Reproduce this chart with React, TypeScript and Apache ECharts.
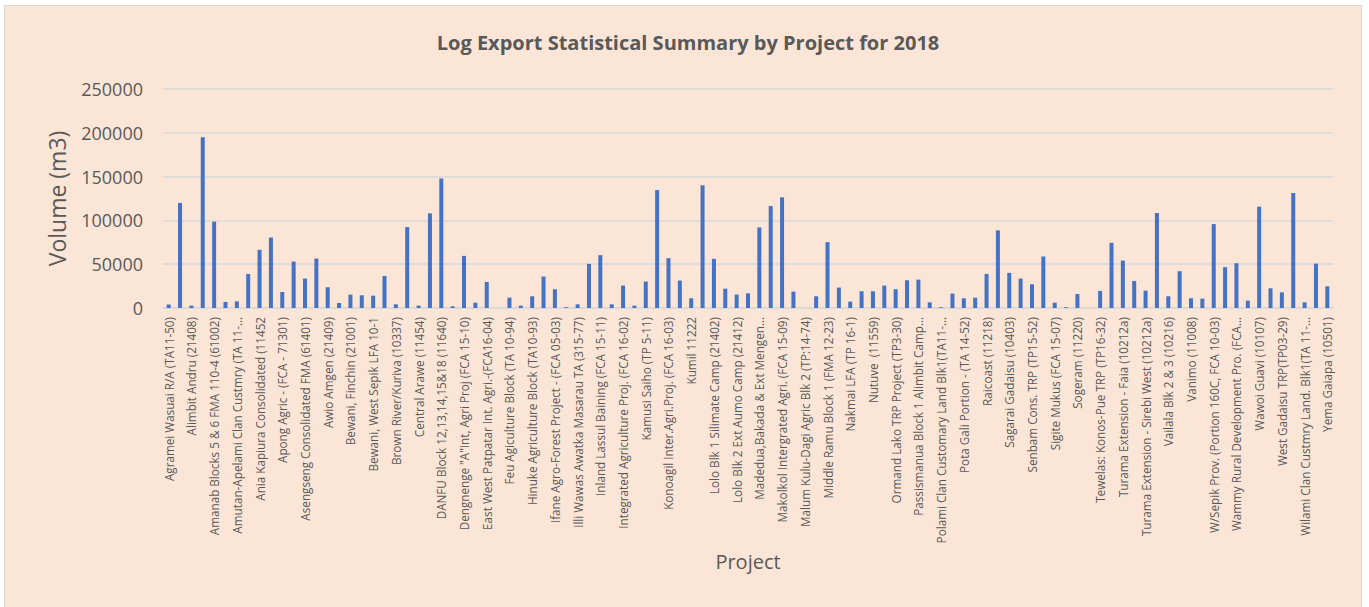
import React, { useEffect, useRef } from "react";
import * as echarts from "echarts";

// Labels that are visible in the chart (every other category is shown)
const labeledProjects: string[] = [
  "Agramei Wasuai R/A (TA11-50)",
  "Alimbit Andru (21408)",
  "Amanab Blocks 5 & 6 FMA 110-4 (61002)",
  "Amutan-Apelami Clan Custmry (TA 11-…",
  "Ania Kapiura Consolidated (11452",
  "Apong Agric - (FCA - 71301)",
  "Asengseng Consolidated FMA (61401)",
  "Awio Amgen (21409)",
  "Bewani, Finchin (21001)",
  "Bewani, West Sepik LFA 10-1",
  "Brown River/Kuriva (10337)",
  "Central Arawe (11454)",
  "DANFU Block 12,13,14,15&18 (11640)",
  "Dengnenge \"A\"Int, Agri Proj (FCA 15-10)",
  "East West Patpatar Int. Agri.-(FCA16-04)",
  "Feu Agiculture Block (TA 10-94)",
  "Hinuke Agriculture Block (TA10-93)",
  "Ifane Agro-Forest Project - (FCA 05-03)",
  "Illi Wawas Awatka Masarau TA (315-77)",
  "Inland Lassul Baining (FCA 15-11)",
  "Integrated Agriculture Proj. (FCA 16-02)",
  "Kamusi Saiho (TP 5-11)",
  "Konoagil Inter.Agri.Proj. (FCA 16-03)",
  "Kumil 11222",
  "Lolo Blk 1 Silimate Camp (21402)",
  "Lolo Blk 2 Ext Aumo Camp (21412)",
  "Madedua,Bakada & Ext Mengen…",
  "Makolkol Intergrated Agri. (FCA 15-09)",
  "Malum Kulu-Dagi Agric Blk 2 (TP:14-74)",
  "Middle Ramu Block 1 (FMA 12-23)",
  "Nakmai LFA (TP 16-1)",
  "Nutuve  (11559)",
  "Ormand Lako TRP Project (TP3-30)",
  "Passismanua Block 1 Alimbit Camp…",
  "Polami Clan Customary Land Blk1(TA11-…",
  "Pota Gali Portion - (TA 14-52)",
  "Raicoast (11218)",
  "Sagarai Gadaisu (10403)",
  "Senbam Cons. TRP (TP15-52)",
  "Sigite Mukus (FCA 15-07)",
  "Sogeram (11220)",
  "Tewelas: Konos-Pue TRP (TP16-32)",
  "Turama Extension - Faia (10212a)",
  "Turama Extension - Sirebi West (10212a)",
  "Vailala Blk 2 & 3 (10216)",
  "Vanimo (11008)",
  "W/Sepik Prov. (Portion 160C, FCA 10-03)",
  "Wammy Rural Development Pro. (FCA…",
  "Wawoi Guavi (10107)",
  "West Gadaisu TRP(TP03-29)",
  "Wilami Clan Custmry Land. Blk1(TA 11-…",
  "Yema Gaiapa (10501)",
];

// Volume (m3) for all 103 projects, in axis order
const volumes: number[] = [
  4000, 120000, 2700, 195000, 98500, 6900, 7600, 38900, 66400, 80500,
  18300, 53000, 33600, 56500, 23700, 5700, 15300, 14500, 14100, 36600,
  4200, 92400, 2700, 108000, 147700, 1900, 59500, 6100, 29800, 0,
  11800, 2700, 13400, 35900, 21400, 900, 4200, 50400, 60300, 4200,
  25600, 2700, 30200, 134700, 56900, 31300, 11100, 140100, 56100, 22100,
  15300, 16800, 92000, 116400, 126300, 18700, 0, 13400, 75200, 23300,
  7300, 19100, 19100, 25600, 21400, 31700, 32400, 6500, 900, 16400,
  11100, 11800, 38900, 88600, 40100, 33600, 27100, 58800, 6100, 900,
  16000, 0, 19500, 74400, 54200, 30900, 19800, 108400, 13400, 42000,
  11100, 10700, 95800, 46600, 51100, 8400, 115700, 22500, 17900, 131300,
  6500, 50700, 24800,
];

const yTicks = { min: 0, max: 250000, interval: 50000 };

// Names of the unlabeled (every second) categories cannot be read from the chart
const categories: string[] = volumes.map((_, i) =>
  i % 2 === 0 ? labeledProjects[i / 2] : ""
);

const FONT = "'Open Sans', 'Liberation Sans', sans-serif";
const TEXT = "#595959";
const GRID = "#D9D9D9";

export default function App() {
  const ref = useRef<HTMLDivElement>(null);

  useEffect(() => {
    if (!ref.current) return;
    const chart = echarts.init(ref.current, undefined, { renderer: "svg" });
    chart.setOption({
      animation: false,
      backgroundColor: "transparent",
      textStyle: { fontFamily: FONT },
      title: {
        text: "Log Export Statistical Summary by Project for 2018",
        left: 683,
        textAlign: "center",
        top: 27,
        textStyle: {
          fontFamily: FONT,
          fontSize: 20,
          fontWeight: "bold",
          color: TEXT,
        },
      },
      grid: { left: 163, right: 36, top: 89, bottom: 299, containLabel: false },
      xAxis: {
        type: "category",
        data: categories,
        boundaryGap: true,
        name: "Project",
        nameLocation: "middle",
        nameGap: 243,
        nameTextStyle: { fontFamily: FONT, fontSize: 20, color: TEXT },
        axisLine: { show: true, lineStyle: { color: GRID, width: 1.5 } },
        axisTick: { show: false },
        axisLabel: {
          interval: 1,
          rotate: 90,
          margin: 9,
          fontFamily: FONT,
          fontSize: 11.7,
          color: TEXT,
        },
      },
      yAxis: {
        type: "value",
        min: yTicks.min,
        max: yTicks.max,
        interval: yTicks.interval,
        name: "Volume (m3)",
        nameLocation: "middle",
        nameGap: 95,
        nameTextStyle: { fontFamily: FONT, fontSize: 23, color: TEXT },
        axisLine: { show: false },
        axisTick: { show: false },
        axisLabel: {
          margin: 20,
          fontFamily: FONT,
          fontSize: 18,
          color: TEXT,
          formatter: (v: number) => String(v),
        },
        splitLine: { show: true, lineStyle: { color: GRID, width: 1.5 } },
      },
      series: [
        {
          type: "bar",
          data: volumes,
          barWidth: 4,
          itemStyle: { color: "#4472C4" },
        },
      ],
    });
    return () => chart.dispose();
  }, []);

  return (
    <div
      style={{
        position: "fixed",
        left: 0,
        top: 0,
        width: 1369,
        height: 607,
        background: "#ffffff",
        overflow: "hidden",
      }}
    >
      <div
        style={{
          position: "absolute",
          left: 4,
          top: 5,
          width: 1358,
          height: 620,
          boxSizing: "border-box",
          background: "#FBE5D6",
          border: "1px solid #D9D9D9",
        }}
      />
      <div
        ref={ref}
        style={{ position: "absolute", left: 0, top: 0, width: 1369, height: 607 }}
      />
    </div>
  );
}
